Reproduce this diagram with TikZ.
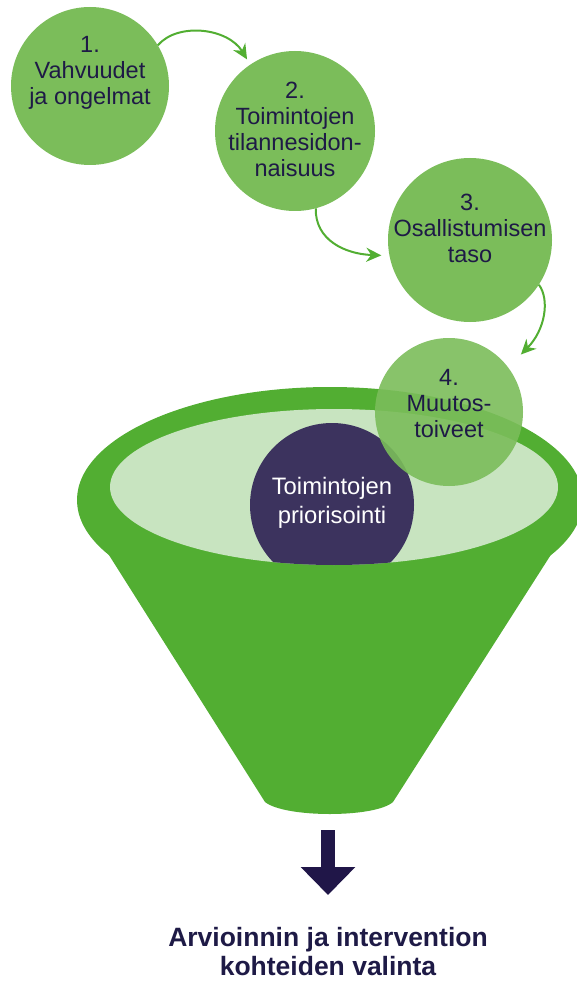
\documentclass[tikz,border=0pt]{standalone}
\usepackage{fontspec}
\setmainfont{Liberation Sans}
\usetikzlibrary{arrows.meta}
\definecolor{stepgreen}{HTML}{7BBD5A}
\definecolor{funnelgreen}{HTML}{52AE32}
\definecolor{innergreen}{HTML}{C8E4C0}
\definecolor{prioviolet}{HTML}{3C335E}
\definecolor{textnavy}{HTML}{1E1A46}
\definecolor{arrownavy}{HTML}{201648}

\begin{document}
\begin{tikzpicture}[x=1pt,y=-1pt]
            \tikzset{
            fnl step/.style={circle,fill=stepgreen,inner sep=0},
            fnl text/.style={align=center,text=textnavy,font=\fontsize{23.5}{26}\selectfont},
            fnl edge/.style={draw=funnelgreen,line width=2pt,-{Stealth[length=15pt,width=14pt]}}
            }
            \useasboundingbox (0,0) rectangle (577,981);

            % funnel
            \fill[funnelgreen] (330,500) ellipse [x radius=253, y radius=113];
            \fill[funnelgreen] (78,506) -- (265,802) .. controls (285,818) and (375,818) .. (393,802) -- (582,506) -- cycle;
            \fill[innergreen] (334,487) ellipse [x radius=224, y radius=78];
            \begin{scope}
            \clip (334,487) ellipse [x radius=224, y radius=78];
            \node[circle,fill=prioviolet,minimum size=164pt,inner sep=0] (prio) at (332,505) {};
            \end{scope}
            \node[align=center,text=white,font=\fontsize{23.8}{29}\selectfont] (priotxt) at (332,503) {Toimintojen\\priorisointi};

            % steps
            \node[fnl step,minimum size=158pt] (s1) at (90,86) {};
            \node[fnl step,minimum size=160pt] (s2) at (295,131) {};
            \node[fnl step,minimum size=164pt] (s3) at (470,240) {};
            \node[fnl step,minimum size=148pt,fill opacity=0.9] (s4) at (449,412) {};
            \node[fnl text] (t1) at (90,73) {1.\\Vahvuudet\\ja ongelmat};
            \node[fnl text] (t2) at (295,129) {2.\\Toimintojen\\tilannesidon-\\naisuus};
            \node[fnl text] (t3) at (470,228) {3.\\Osallistumisen\\taso};
            \node[fnl text] (t4) at (449,404) {4.\\Muutos-\\toiveet};

            \draw[fnl edge,shorten >=6pt] (s1.31) .. controls (178,22) and (228,28) .. (s2.124);
            \draw[fnl edge,shorten >=8pt] (s2.-75) .. controls (315,240) and (345,254) .. (s3.191);
            \draw[fnl edge,shorten >=18pt] (s3.-33) .. controls (550,300) and (545,330) .. (s4.37);

            % result
            \coordinate (spout) at (328,830);
            \coordinate (tip) at (328,895);
            \draw[arrownavy,line width=14pt,-{Triangle[length=28pt,width=53pt]}] (spout) -- (tip);
            \node[align=center,text=textnavy,font=\bfseries\fontsize{26.5}{29}\selectfont] (goal) at (328,952) {Arvioinnin ja intervention\\kohteiden valinta};
\end{tikzpicture}
\end{document}
